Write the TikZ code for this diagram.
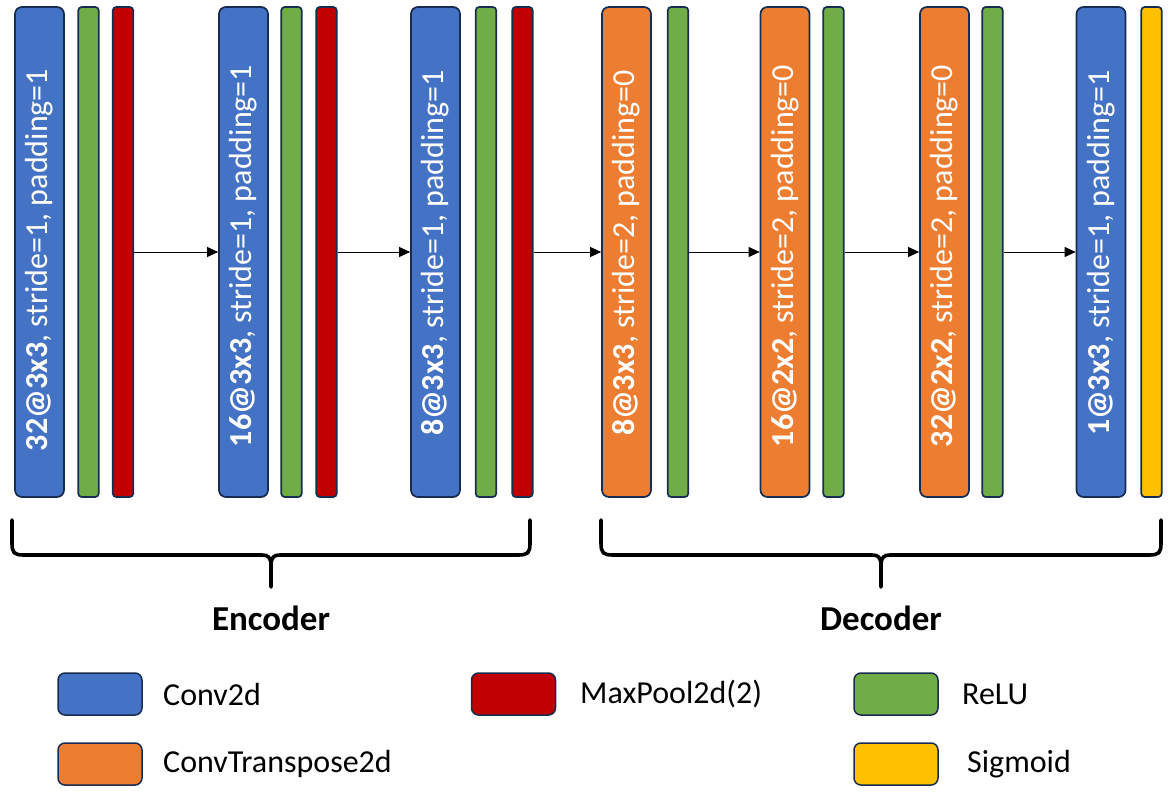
\documentclass[tikz,border=0pt]{standalone}
\usepackage{fontspec}
\setmainfont{Carlito}
\usetikzlibrary{arrows.meta}
\definecolor{bcol}{HTML}{172C51}
\definecolor{cblue}{HTML}{4472C4}
\definecolor{cgreen}{HTML}{70AD47}
\definecolor{cred}{HTML}{C00000}
\definecolor{corange}{HTML}{ED7D31}
\definecolor{cyellow}{HTML}{FFC000}
\tikzset{
  bigbox/.style={draw=bcol, line width=1.7pt, rounded corners=7pt, inner sep=0pt,
    minimum width=49pt, minimum height=490pt},
  slim/.style={draw=bcol, line width=1.7pt, rounded corners=3.5pt, inner sep=0pt,
    minimum width=20.5pt, minimum height=490pt},
  ltxt/.style={rotate=90, text=white, inner sep=0pt, font=\fontsize{32}{38}\selectfont},
  flow/.style={line width=0.9pt, -{Triangle[length=11pt,width=10pt]}},
  brace/.style={line width=3.6pt, line cap=round, line join=round},
  title/.style={font=\fontsize{35}{42}\selectfont\bfseries},
  legbox/.style={draw=bcol, line width=1.5pt, rounded corners=7pt, inner sep=0pt,
    minimum width=84pt, minimum height=42pt},
  legtxt/.style={anchor=west, inner sep=0pt, font=\fontsize{32}{38}\selectfont},
}
\begin{document}
\begin{tikzpicture}[x=1pt,y=-1pt]
\useasboundingbox (0,0) rectangle (1170,794);
% encoder
\node[bigbox, fill=cblue]  (b1) at (39.5,252) {};
\node[slim, fill=cgreen]   (g1) at (88.5,252) {};
\node[slim, fill=cred]     (r1) at (123,252) {};
\node[bigbox, fill=cblue]  (b2) at (243.5,252) {};
\node[slim, fill=cgreen]   (g2) at (291.5,252) {};
\node[slim, fill=cred]     (r2) at (326.5,252) {};
\node[bigbox, fill=cblue]  (b3) at (435.5,252) {};
\node[slim, fill=cgreen]   (g3) at (486,252) {};
\node[slim, fill=cred]     (r3) at (522.5,252) {};
% decoder
\node[bigbox, fill=corange] (o1) at (626.5,252) {};
\node[slim, fill=cgreen]    (g4) at (678,252) {};
\node[bigbox, fill=corange] (o2) at (785,252) {};
\node[slim, fill=cgreen]    (g5) at (833.5,252) {};
\node[bigbox, fill=corange] (o3) at (944.5,252) {};
\node[slim, fill=cgreen]    (g6) at (992.5,252) {};
\node[bigbox, fill=cblue]   (b4) at (1101,252) {};
\node[slim, fill=cyellow]   (y1) at (1151.5,252) {};
% labels
\node[ltxt] (t1) at (39.5,260) {\textbf{32@3x3}, stride=1, padding=1};
\node[ltxt] (t2) at (243.5,256) {\textbf{16@3x3}, stride=1, padding=1};
\node[ltxt] (t3) at (435.5,253) {\textbf{8@3x3}, stride=1, padding=1};
\node[ltxt] (t4) at (626.5,253) {\textbf{8@3x3}, stride=2, padding=0};
\node[ltxt] (t5) at (785,256) {\textbf{16@2x2}, stride=2, padding=0};
\node[ltxt] (t6) at (944.5,256) {\textbf{32@2x2}, stride=2, padding=0};
\node[ltxt] (t7) at (1101,253) {\textbf{1@3x3}, stride=1, padding=1};
% arrows
\draw[flow] (r1) -- (b2);
\draw[flow] (r2) -- (b3);
\draw[flow] (r3) -- (o1);
\draw[flow] (g4) -- (o2);
\draw[flow] (g5) -- (o3);
\draw[flow] (g6) -- (b4);
% braces
\draw[brace] (12,520) -- (12,543) .. controls (12,553) and (14,555) .. (24,555) -- (262,555)
  .. controls (268,555) and (271,557) .. (271,566) -- (271,587);
\draw[brace] (530,520) -- (530,543) .. controls (530,553) and (528,555) .. (518,555) -- (280,555)
  .. controls (274,555) and (271,557) .. (271,566);
\draw[brace] (601,520) -- (601,543) .. controls (601,553) and (603,555) .. (613,555) -- (872,555)
  .. controls (878,555) and (881,557) .. (881,566) -- (881,587);
\draw[brace] (1161,520) -- (1161,543) .. controls (1161,553) and (1159,555) .. (1149,555) -- (890,555)
  .. controls (884,555) and (881,557) .. (881,566);
\node[title] (enc) at (271,618) {Encoder};
\node[title] (dec) at (881,618) {Decoder};
% legend
\node[legbox, fill=cblue]   (l1) at (100,694) {};
\node[legbox, fill=corange] (l2) at (100,764) {};
\node[legbox, fill=cred]    (l3) at (513.5,694) {};
\node[legbox, fill=cgreen]  (l4) at (896,694) {};
\node[legbox, fill=cyellow] (l5) at (896,764) {};
\node[legtxt] (lt1) at (163,694) {Conv2d};
\node[legtxt] (lt2) at (163,764) {ConvTranspose2d};
\node[legtxt] (lt3) at (580,694) {MaxPool2d(2)};
\node[legtxt] (lt4) at (962,694) {ReLU};
\node[legtxt] (lt5) at (967,764) {Sigmoid};
\end{tikzpicture}
\end{document}
